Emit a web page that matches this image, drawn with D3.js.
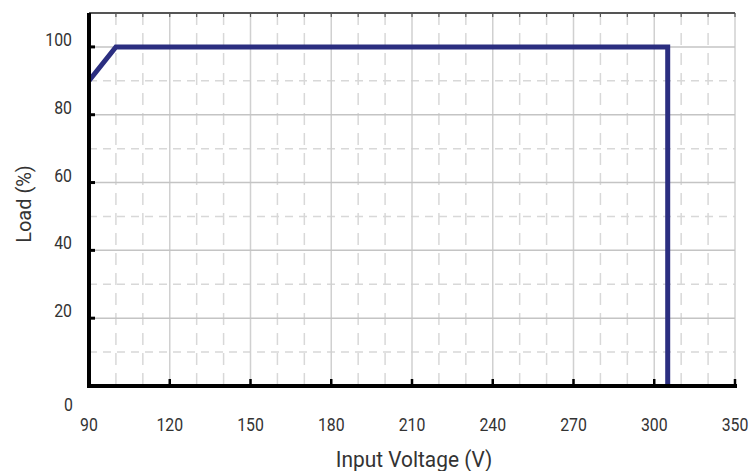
<!DOCTYPE html>
<html>
<head>
<meta charset="utf-8">
<script src="https://cdn.jsdelivr.net/npm/d3@7"></script>
<style>
  body { margin: 0; background: #fff; }
  text { font-family: Roboto, "Liberation Sans", sans-serif; font-weight: 400; fill: #333; }
</style>
</head>
<body>
<div id="chart"></div>
<script>
// data
const loadVoltage = [90, 100, 305, 305]
const loadPercent = [90, 100, 100, 0]

const xTickValues = [90, 120, 150, 180, 210, 240, 270, 300, 330]
const xTickLabels = ['90', '120', '150', '180', '210', '240', '270', '300', '350']
const yTickValues = [0, 20, 40, 60, 80, 100]
const yTickLabels = ['0', '20', '40', '60', '80', '100']

const width = 752,
  height = 471
const margin = { top: 13, right: 17, bottom: 85, left: 89 }
const squeeze = 0.88

const x = d3.scaleLinear().domain([90, 330]).range([margin.left, width - margin.right])
const y = d3.scaleLinear().domain([0, 110]).range([height - margin.bottom, margin.top])

const svg = d3.select('#chart')
  .append('svg')
  .attr('width', width)
  .attr('height', height)

const minorX = d3.range(100, 330, 10).filter(v => (v - 90) % 30 !== 0)
const majorX = xTickValues.slice(1)
const minorY = [10, 30, 50, 70, 90]
const majorY = [20, 40, 60, 80, 100]

const grid = svg.append('g')

// dashed minor grid
grid.selectAll('.vminor')
  .data(minorX)
  .enter().append('line')
  .attr('x1', d => x(d)).attr('x2', d => x(d))
  .attr('y1', y(110)).attr('y2', y(0))
  .attr('stroke', '#d8d8d8').attr('stroke-width', 1.5)
  .attr('stroke-dasharray', '12,8')

grid.selectAll('.hminor')
  .data(minorY)
  .enter().append('line')
  .attr('x1', x(90)).attr('x2', x(330))
  .attr('y1', d => y(d)).attr('y2', d => y(d))
  .attr('stroke', '#d8d8d8').attr('stroke-width', 1.5)
  .attr('stroke-dasharray', '8,6')

// solid major grid
grid.selectAll('.vmajor')
  .data(majorX)
  .enter().append('line')
  .attr('x1', d => x(d)).attr('x2', d => x(d))
  .attr('y1', y(110)).attr('y2', y(0))
  .attr('stroke', '#d0d0d0').attr('stroke-width', 1.5)

grid.selectAll('.hmajor')
  .data(majorY)
  .enter().append('line')
  .attr('x1', x(90)).attr('x2', x(330))
  .attr('y1', d => y(d)).attr('y2', d => y(d))
  .attr('stroke', '#c4c4c4').attr('stroke-width', 1.5)

// top border with little ticks
svg.append('line')
  .attr('x1', x(90)).attr('x2', x(330))
  .attr('y1', y(110)).attr('y2', y(110))
  .attr('stroke', '#555').attr('stroke-width', 2)

svg.selectAll('.topTick')
  .data(d3.range(100, 331, 10))
  .enter().append('line')
  .attr('x1', d => x(d)).attr('x2', d => x(d))
  .attr('y1', y(110)).attr('y2', y(110) + 4)
  .attr('stroke', '#555').attr('stroke-width', 1.2)

// the load curve
const line = d3.line()
  .x((d, i) => x(loadVoltage[i]))
  .y(d => y(d))

svg.append('path')
  .datum(loadPercent)
  .attr('d', line)
  .attr('fill', 'none')
  .attr('stroke', '#2b2e80')
  .attr('stroke-width', 5)
  .attr('stroke-linejoin', 'miter')

// axes, thick black
svg.append('line')
  .attr('x1', x(90)).attr('x2', x(90))
  .attr('y1', y(110)).attr('y2', y(0) + 2)
  .attr('stroke', '#000').attr('stroke-width', 4)

svg.append('line')
  .attr('x1', x(90) - 2).attr('x2', x(330) + 2)
  .attr('y1', y(0)).attr('y2', y(0))
  .attr('stroke', '#000').attr('stroke-width', 4)

svg.selectAll('.xTick')
  .data(majorX)
  .enter().append('line')
  .attr('x1', d => x(d)).attr('x2', d => x(d))
  .attr('y1', y(0)).attr('y2', y(0) - 7)
  .attr('stroke', '#000').attr('stroke-width', 2.5)

svg.selectAll('.yTick')
  .data(majorY)
  .enter().append('line')
  .attr('x1', x(90)).attr('x2', x(90) + 6)
  .attr('y1', d => y(d)).attr('y2', d => y(d))
  .attr('stroke', '#000').attr('stroke-width', 3)

// tick labels (squeezed a little, the original font is narrow)
svg.selectAll('.xLabel')
  .data(xTickValues)
  .enter().append('text')
  .attr('transform', d => `translate(${x(d)},431) scale(${squeeze},1)`)
  .attr('text-anchor', 'middle')
  .attr('font-size', 18)
  .text((d, i) => xTickLabels[i])

svg.selectAll('.yLabel')
  .data(yTickValues)
  .enter().append('text')
  .attr('transform', d => `translate(${d === 0 ? 73 : 72},${d === 0 ? y(d) + 25 : y(d) - 1}) scale(${squeeze},1)`)
  .attr('text-anchor', 'end')
  .attr('font-size', 18)
  .text((d, i) => yTickLabels[i])

// axis titles
svg.append('text')
  .attr('transform', 'translate(414,467) scale(0.95,1)')
  .attr('text-anchor', 'middle')
  .attr('font-size', 22)
  .text('Input Voltage (V)')

svg.append('text')
  .attr('transform', 'translate(31,204) rotate(-90) scale(0.95,1)')
  .attr('text-anchor', 'middle')
  .attr('font-size', 21)
  .text('Load (%)')
</script>
</body>
</html>
